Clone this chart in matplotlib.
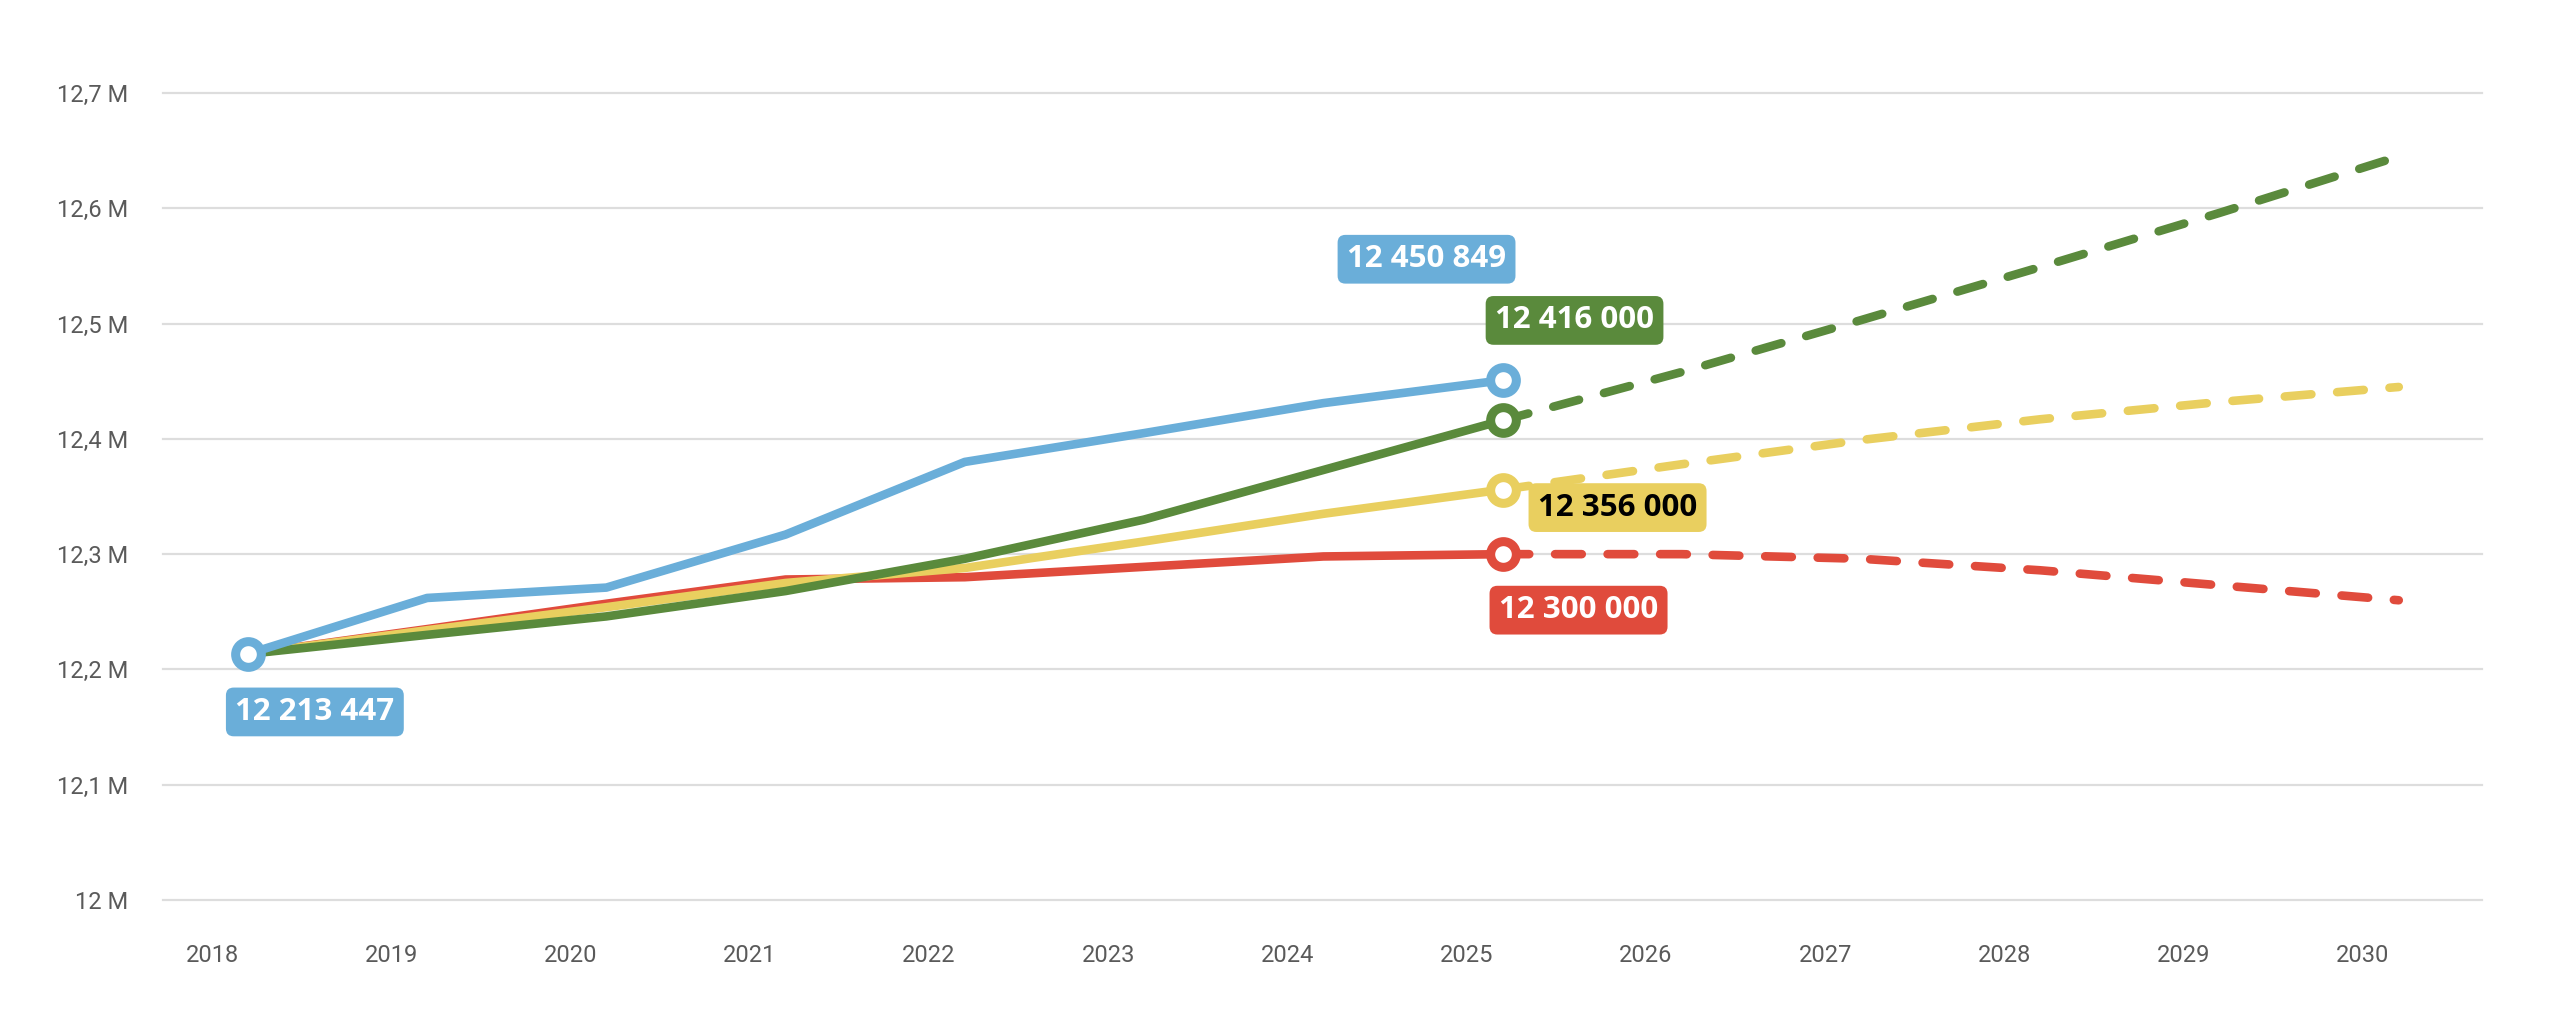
import matplotlib
matplotlib.use("Agg")
import matplotlib.pyplot as plt
from matplotlib.ticker import FuncFormatter

# --- data -----------------------------------------------------------------
years_hist = [2018, 2019, 2020, 2021, 2022, 2023, 2024, 2025]
years_proj = [2025, 2026, 2027, 2028, 2029, 2030]

blue_hist = [12213447, 12262000, 12271000, 12317000, 12380000, 12405000, 12431000, 12450849]
green_hist = [12213447, 12230000, 12246000, 12268000, 12296000, 12330000, 12373000, 12416000]
yellow_hist = [12213447, 12234000, 12254000, 12275000, 12288000, 12311000, 12335000, 12356000]
red_hist = [12213447, 12235000, 12257000, 12278000, 12280000, 12289000, 12298000, 12300000]

green_proj = [12416000, 12458000, 12503000, 12549000, 12596000, 12645000]
yellow_proj = [12356000, 12378000, 12399000, 12417000, 12432000, 12445000]
red_proj = [12300000, 12300000, 12296000, 12286000, 12273000, 12260000]

x_ticks = list(range(2018, 2031))
y_ticks = [12.0e6, 12.1e6, 12.2e6, 12.3e6, 12.4e6, 12.5e6, 12.6e6, 12.7e6]

BLUE = "#6aaed9"
GREEN = "#5a8a3c"
YELLOW = "#e9cf5f"
RED = "#e04b3c"

# points sit a bit after the start of each year
OFF = 0.2

tick_font = ["Roboto", "DejaVu Sans"]
label_font = ["Open Sans", "DejaVu Sans"]

fig = plt.figure(figsize=(25.6, 10.3), dpi=100)
ax = fig.add_axes([0.0637, 0.1262, 0.9058, 0.7835])

lw = 6.2
dash = (3.1, 3.0)


def xs(years):
    return [y + OFF for y in years]


# projections first, then history (red under yellow under green under blue)
ax.plot(xs(years_proj), red_proj, color=RED, lw=lw, ls=(0, dash), dash_capstyle="round", zorder=2)
ax.plot(xs(years_proj), yellow_proj, color=YELLOW, lw=lw, ls=(0, dash), dash_capstyle="round", zorder=3)
ax.plot(xs(years_proj), green_proj, color=GREEN, lw=lw, ls=(0, dash), dash_capstyle="round", zorder=4)

ax.plot(xs(years_hist), red_hist, color=RED, lw=lw, solid_joinstyle="round", zorder=5)
ax.plot(xs(years_hist), yellow_hist, color=YELLOW, lw=lw, solid_joinstyle="round", zorder=6)
ax.plot(xs(years_hist), green_hist, color=GREEN, lw=lw, solid_joinstyle="round", zorder=7)
ax.plot(xs(years_hist), blue_hist, color=BLUE, lw=lw, solid_joinstyle="round", zorder=8)

mk = dict(marker="o", ms=18.5, mew=6.5, mfc="white", ls="none")
ax.plot([years_hist[-1] + OFF], [red_hist[-1]], mec=RED, zorder=9, **mk)
ax.plot([years_hist[-1] + OFF], [yellow_hist[-1]], mec=YELLOW, zorder=9, **mk)
ax.plot([years_hist[-1] + OFF], [green_hist[-1]], mec=GREEN, zorder=9, **mk)
ax.plot([years_hist[0] + OFF, years_hist[-1] + OFF], [blue_hist[0], blue_hist[-1]], mec=BLUE, zorder=10, **mk)


def fmt_num(v):
    return f"{v:,.0f}".replace(",", " ")


def tag(x, y, color, dx, dy, text_color="white"):
    ax.annotate(fmt_num(y), (x + OFF, y), xytext=(dx, dy), textcoords="offset pixels",
                ha="center", va="center", fontsize=22.5, fontweight="bold",
                family=label_font, color=text_color, zorder=11,
                bbox=dict(boxstyle="round,pad=0.3,rounding_size=0.25", fc=color, ec="none"))


tag(years_hist[0], blue_hist[0], BLUE, 67, -58)
tag(years_hist[-1], blue_hist[-1], BLUE, -76, 121)
tag(years_hist[-1], green_hist[-1], GREEN, 72, 100)
tag(years_hist[-1], yellow_hist[-1], YELLOW, 115, -18, text_color="black")
tag(years_hist[-1], red_hist[-1], RED, 76, -56)

ax.set_xlim(2017.727, 2030.664)
ax.set_ylim(12.0e6, 12.7e6)
ax.set_xticks(x_ticks)
ax.set_yticks(y_ticks)


def y_fmt(v, pos):
    m = v / 1e6
    if abs(m - round(m)) < 1e-9:
        return f"{int(round(m))} M"
    return f"{m:.1f} M".replace(".", ",")


ax.yaxis.set_major_formatter(FuncFormatter(y_fmt))
ax.grid(axis="y", color="#dddddd", lw=1.6, zorder=0)
for gl in ax.get_ygridlines():
    gl.set_clip_on(False)
ax.set_axisbelow(True)
for s in ax.spines.values():
    s.set_visible(False)
ax.tick_params(axis="both", length=0, labelsize=17, labelcolor="#5a5a5a")
ax.tick_params(axis="y", pad=25)
ax.tick_params(axis="x", pad=32)
for lab in ax.get_xticklabels() + ax.get_yticklabels():
    lab.set_family(tick_font)
    lab.set_fontweight("normal")

fig.savefig("out.png", dpi=100, facecolor="white")
